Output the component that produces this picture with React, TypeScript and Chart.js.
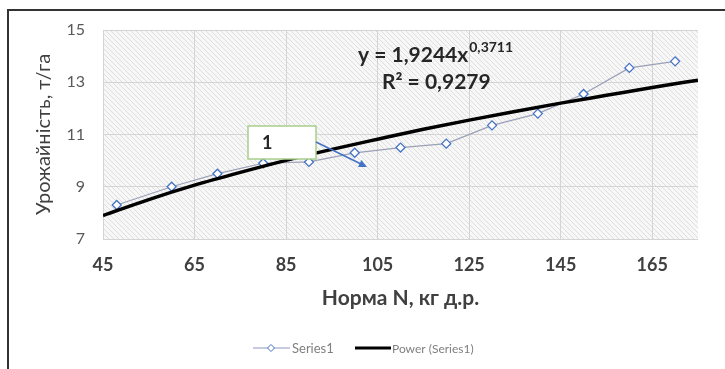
import React, { useEffect, useRef } from "react";
import { Chart, registerables } from "chart.js";

Chart.register(...registerables);

// ---- data ----
const seriesX = [48, 60, 70, 80, 90, 100, 110, 120, 130, 140, 150, 160, 170];
const seriesY = [8.3, 9.0, 9.5, 9.9, 9.95, 10.3, 10.5, 10.65, 11.35, 11.8, 12.55, 13.55, 13.8];
const trendX = [45, 55, 65, 75, 85, 95, 105, 115, 125, 135, 145, 155, 165, 175];
const trendY = [7.9, 8.51, 9.06, 9.55, 10.01, 10.43, 10.82, 11.2, 11.55, 11.88, 12.2, 12.5, 12.8, 13.08];
const xTicks = [45, 65, 85, 105, 125, 145, 165];
const yTicks = [7, 9, 11, 13, 15];
const seriesName = "Series1";
const trendName = "Power (Series1)";
const xTitle = "Норма N, кг д.р.";
const yTitle = "Урожайність, т/га";
const eqMain = "y = 1,9244x";
const eqPow = "0,3711";
const r2Text = "R² = 0,9279";
const calloutText = "1";

const FONT = "Lato, 'Open Sans', sans-serif";
const TEXT = "#404040";

function makePattern(ctx: CanvasRenderingContext2D) {
  const c = document.createElement("canvas");
  c.width = 5;
  c.height = 5;
  const p = c.getContext("2d")!;
  p.fillStyle = "#f7f7f7";
  p.fillRect(0, 0, 5, 5);
  p.strokeStyle = "#dedede";
  p.lineWidth = 1;
  p.beginPath();
  p.moveTo(-1, -1);
  p.lineTo(6, 6);
  p.stroke();
  return ctx.createPattern(c, "repeat");
}

const decorPlugin = {
  id: "decor",
  beforeDraw(chart: any) {
    const { ctx, chartArea: a } = chart;
    ctx.save();
    ctx.fillStyle = "#ffffff";
    ctx.fillRect(0, 0, chart.width, chart.height);
    const pat = makePattern(ctx);
    if (pat) {
      ctx.fillStyle = pat;
      ctx.fillRect(a.left, a.top, a.right - a.left, a.bottom - a.top);
    }
    // frame
    ctx.strokeStyle = "#333333";
    ctx.lineWidth = 2;
    ctx.beginPath();
    ctx.moveTo(8, chart.height + 2);
    ctx.lineTo(8, 10);
    ctx.lineTo(chart.width + 2, 10);
    ctx.stroke();
    ctx.restore();
  },
  afterDraw(chart: any) {
    const { ctx, chartArea: a } = chart;
    ctx.save();
    // equation
    ctx.fillStyle = "#262626";
    ctx.textBaseline = "middle";
    ctx.textAlign = "left";
    ctx.font = `bold 21px ${FONT}`;
    const ex = a.left + 255;
    ctx.fillText(eqMain, ex, a.top + 25);
    const w = ctx.measureText(eqMain).width;
    ctx.font = `bold 14px ${FONT}`;
    ctx.fillText(eqPow, ex + w + 1, a.top + 17);
    ctx.font = `bold 21px ${FONT}`;
    ctx.fillText(r2Text, a.left + 279, a.top + 52);

    // callout box
    const bx = 248, by = 126, bw = 68, bh = 33;
    ctx.fillStyle = "#ffffff";
    ctx.fillRect(bx, by, bw, bh);
    ctx.strokeStyle = "#a9cf8a";
    ctx.lineWidth = 1.5;
    ctx.strokeRect(bx, by, bw, bh);
    ctx.fillStyle = "#262626";
    ctx.font = `bold 18px ${FONT}`;
    ctx.fillText(calloutText, bx + 14, by + bh / 2 + 1);
    // arrow
    const x1 = bx + bw, y1 = 142, x2 = 367, y2 = 167;
    ctx.strokeStyle = "#4472c4";
    ctx.fillStyle = "#4472c4";
    ctx.lineWidth = 1.5;
    ctx.beginPath();
    ctx.moveTo(x1, y1);
    ctx.lineTo(x2 - 6, y2 - 3);
    ctx.stroke();
    const ang = Math.atan2(y2 - y1, x2 - x1);
    ctx.beginPath();
    ctx.moveTo(x2, y2);
    ctx.lineTo(x2 - 9 * Math.cos(ang - 0.45), y2 - 9 * Math.sin(ang - 0.45));
    ctx.lineTo(x2 - 9 * Math.cos(ang + 0.45), y2 - 9 * Math.sin(ang + 0.45));
    ctx.closePath();
    ctx.fill();

    // legend
    const ly = 348;
    ctx.strokeStyle = "#8e96c4";
    ctx.lineWidth = 1;
    ctx.beginPath();
    ctx.moveTo(253, ly);
    ctx.lineTo(290, ly);
    ctx.stroke();
    ctx.fillStyle = "#ffffff";
    ctx.strokeStyle = "#4472c4";
    ctx.beginPath();
    ctx.moveTo(271, ly - 3.5);
    ctx.lineTo(274.5, ly);
    ctx.lineTo(271, ly + 3.5);
    ctx.lineTo(267.5, ly);
    ctx.closePath();
    ctx.fill();
    ctx.stroke();
    ctx.fillStyle = "#7f7f7f";
    ctx.font = `13px ${FONT}`;
    ctx.fillText(seriesName, 292, ly + 1);
    ctx.strokeStyle = "#000000";
    ctx.lineWidth = 3;
    ctx.beginPath();
    ctx.moveTo(355, ly);
    ctx.lineTo(391, ly);
    ctx.stroke();
    ctx.font = `12px ${FONT}`;
    ctx.fillText(trendName, 392, ly + 1);
    ctx.restore();
  },
};

export default function App() {
  const ref = useRef<HTMLCanvasElement>(null);
  useEffect(() => {
    if (!ref.current) return;
    const chart = new Chart(ref.current, {
      type: "scatter",
      data: {
        datasets: [
          {
            label: trendName,
            data: trendX.map((x, i) => ({ x, y: trendY[i] })),
            showLine: true,
            borderColor: "#000000",
            borderWidth: 3.5,
            pointRadius: 0,
            cubicInterpolationMode: "monotone",
            order: 1,
          },
          {
            label: seriesName,
            data: seriesX.map((x, i) => ({ x, y: seriesY[i] })),
            showLine: true,
            borderColor: "#9aa0b8",
            borderWidth: 1.2,
            pointStyle: "rectRot",
            pointRadius: 4.5,
            pointBorderColor: "#4472c4",
            pointBorderWidth: 1.3,
            pointBackgroundColor: "#ffffff",
            order: 2,
          },
        ],
      },
      options: {
        animation: false,
        responsive: true,
        maintainAspectRatio: false,
        layout: { padding: { left: 0, top: 30, right: 27, bottom: 50 } },
        plugins: { legend: { display: false }, tooltip: { enabled: false } },
        scales: {
          x: {
            type: "linear",
            min: 45,
            max: 175,
            afterBuildTicks: (s: any) => {
              s.ticks = xTicks.map((v) => ({ value: v }));
            },
            afterFit: (s: any) => {
              s.height = 80;
            },
            grid: { color: "#d4d4d4", drawTicks: false },
            border: { display: false },
            ticks: {
              padding: 15,
              color: TEXT,
              font: { family: FONT, size: 18, weight: "bold" },
            },
            title: {
              display: true,
              text: xTitle,
              color: TEXT,
              padding: { top: 0, bottom: 8 },
              font: { family: FONT, size: 21, weight: "bold" },
            },
          },
          y: {
            type: "linear",
            min: 7,
            max: 15,
            afterBuildTicks: (s: any) => {
              s.ticks = yTicks.map((v) => ({ value: v }));
            },
            afterFit: (s: any) => {
              s.width = 103;
            },
            grid: { color: "#d4d4d4", drawTicks: false },
            border: { display: false },
            ticks: {
              padding: 18,
              color: "#595959",
              font: { family: FONT, size: 16 },
            },
            title: {
              display: true,
              text: yTitle,
              color: TEXT,
              padding: { top: 32, bottom: 0 },
              font: { family: FONT, size: 20 },
            },
          },
        },
      },
      plugins: [decorPlugin],
    } as any);
    return () => chart.destroy();
  }, []);
  return (
    <div style={{ position: "fixed", left: 0, top: 0, width: 725, height: 369 }}>
      <canvas ref={ref} />
    </div>
  );
}
